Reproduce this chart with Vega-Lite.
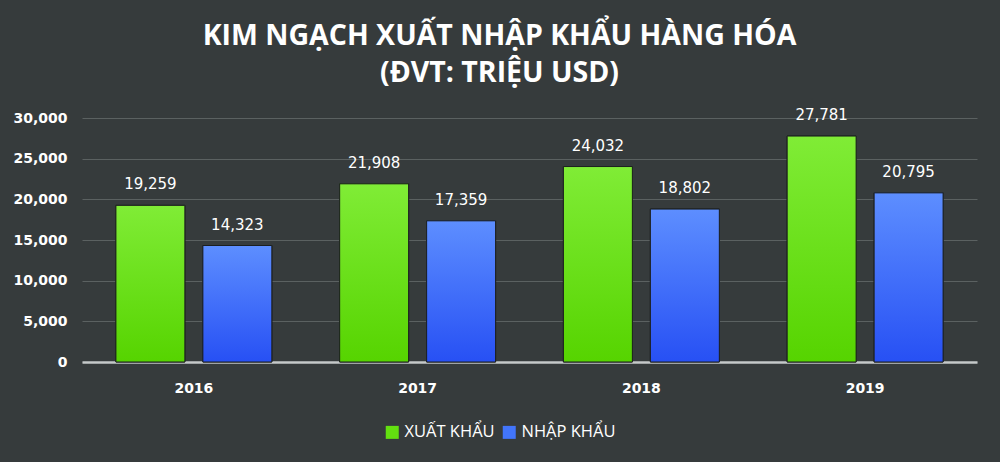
{
  "$schema": "https://vega.github.io/schema/vega-lite/v6.json",
  "width": 895,
  "height": 244,
  "autosize": "none",
  "padding": {"left": 82, "top": 118, "right": 23, "bottom": 100},
  "background": "#363b3c",
  "title": {
    "text": ["KIM NGẠCH XUẤT NHẬP KHẨU HÀNG HÓA", "(ĐVT: TRIỆU USD)"],
    "font": "Open Sans",
    "fontSize": 28.5,
    "fontWeight": "bold",
    "color": "#ffffff",
    "anchor": "middle",
    "frame": "group",
    "dx": -30,
    "offset": 21,
    "lineHeight": 37
  },
  "data": {
    "values": [
      {"year": "2016", "series": "XUẤT KHẨU", "value": 19259},
      {"year": "2016", "series": "NHẬP KHẨU", "value": 14323},
      {"year": "2017", "series": "XUẤT KHẨU", "value": 21908},
      {"year": "2017", "series": "NHẬP KHẨU", "value": 17359},
      {"year": "2018", "series": "XUẤT KHẨU", "value": 24032},
      {"year": "2018", "series": "NHẬP KHẨU", "value": 18802},
      {"year": "2019", "series": "XUẤT KHẨU", "value": 27781},
      {"year": "2019", "series": "NHẬP KHẨU", "value": 20795}
    ]
  },
  "encoding": {
    "x": {
      "field": "year",
      "type": "nominal",
      "scale": {"paddingInner": 0, "paddingOuter": 0},
      "axis": {
        "title": null,
        "labelAngle": 0,
        "labelFont": "DejaVu Sans",
        "labelFontWeight": "bold",
        "labelFontSize": 14,
        "labelColor": "#ffffff",
        "labelPadding": 19,
        "ticks": false,
        "domainColor": "#c5c9c9",
        "domainWidth": 2.5,
        "grid": false
      }
    },
    "xOffset": {
      "field": "series",
      "type": "nominal",
      "sort": ["XUẤT KHẨU", "NHẬP KHẨU"],
      "scale": {"paddingInner": 0.207, "paddingOuter": 0.39}
    },
    "y": {
      "field": "value",
      "type": "quantitative",
      "scale": {"domain": [0, 30000]},
      "axis": {
        "title": null,
        "values": [0, 5000, 10000, 15000, 20000, 25000, 30000],
        "format": ",d",
        "labelFont": "DejaVu Sans",
        "labelFontWeight": "bold",
        "labelFontSize": 14,
        "labelColor": "#ffffff",
        "labelPadding": 15,
        "ticks": false,
        "domain": false,
        "grid": true,
        "gridColor": "#5b6161",
        "gridWidth": 1
      }
    }
  },
  "layer": [
    {
      "mark": {"type": "bar", "stroke": "#1c1f1f", "strokeWidth": 1},
      "encoding": {
        "color": {
          "field": "series",
          "type": "nominal",
          "sort": ["XUẤT KHẨU", "NHẬP KHẨU"],
          "scale": {
            "domain": ["XUẤT KHẨU", "NHẬP KHẨU"],
            "range": ["#63e010", "#4275fb"]
          },
          "legend": {
            "title": null,
            "orient": "none",
            "legendX": 302,
            "legendY": 306,
            "direction": "horizontal",
            "symbolType": "square",
            "symbolSize": 169,
            "symbolStrokeWidth": 0,
            "symbolOpacity": 1,
            "labelFont": "Open Sans",
            "labelFontSize": 16.5,
            "labelColor": "#ffffff",
            "labelOffset": 4,
            "columnPadding": 6
          }
        }
      }
    },
    {
      "mark": {"type": "bar", "stroke": "#1c1f1f", "strokeWidth": 1},
      "encoding": {
        "color": {
          "condition": {
            "test": "datum.series === 'XUẤT KHẨU'",
            "value": {"gradient": "linear", "x1": 0, "y1": 0, "x2": 0, "y2": 1, "stops": [{"offset": 0, "color": "#80ec36"}, {"offset": 1, "color": "#56d400"}]}
          },
          "value": {"gradient": "linear", "x1": 0, "y1": 0, "x2": 0, "y2": 1, "stops": [{"offset": 0, "color": "#5d8eff"}, {"offset": 1, "color": "#2750f4"}]}
        }
      }
    },
    {
      "mark": {"type": "text", "baseline": "middle", "dy": -21, "font": "DejaVu Sans", "fontSize": 15, "color": "#ffffff"},
      "encoding": {
        "text": {"field": "value", "type": "quantitative", "format": ",d"}
      }
    }
  ],
  "config": {
    "view": {"stroke": null}
  }
}
